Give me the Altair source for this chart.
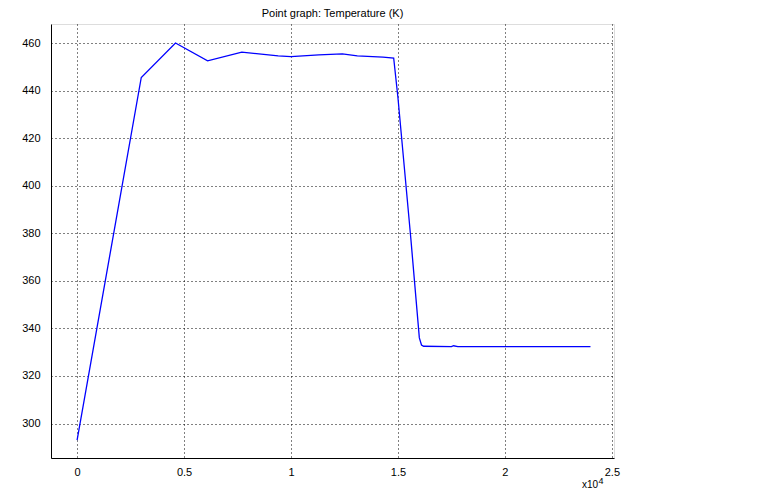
import altair as alt
import pandas as pd

# Time (s) and temperature (K)
time_s = [0, 3000, 4600, 6100, 7700, 9400, 10000, 11300, 12400, 13100,
          14300, 14800, 15000, 15600, 16000, 16100, 16200, 17500, 17600, 17800, 24000]
temp_k = [293, 445.5, 460, 452.5, 456.2, 454.6, 454.3, 455.0, 455.4, 454.6,
          454.1, 453.7, 437, 378, 336, 333, 332.5, 332.3, 332.7, 332.3, 332.3]

x_ticks = [0, 5000, 10000, 15000, 20000, 25000]
y_ticks = [300, 320, 340, 360, 380, 400, 420, 440, 460]

title_text = "Point graph: Temperature (K)"
exp_base = "x10"
exp_power = "4"

df = pd.DataFrame({"t": time_s, "T": temp_k})

FONT = "Liberation Sans"

grid_axis = dict(
    grid=True,
    gridColor="black",
    gridDash=[1, 3],
    gridWidth=1,
    gridOpacity=1,
    domain=True,
    domainColor="black",
    ticks=False,
    labelFont=FONT,
    labelFontSize=11,
    labelColor="black",
    title=None,
)

line = alt.Chart(df).mark_line(color="#0000ff", strokeWidth=1.3, clip=True).encode(
    x=alt.X("t:Q",
            scale=alt.Scale(domain=[-1220, 25100], nice=False, zero=False),
            axis=alt.Axis(values=x_ticks, labelExpr="'' + datum.value / 10000",
                          labelPadding=8, labelFlush=False, **grid_axis)),
    y=alt.Y("T:Q",
            scale=alt.Scale(domain=[285.5, 468], nice=False, zero=False),
            axis=alt.Axis(values=y_ticks, labelPadding=11, **grid_axis)),
)

exp1 = alt.Chart(pd.DataFrame({"s": [exp_base]})).mark_text(
    font=FONT, fontSize=10, color="black", align="center", baseline="middle"
).encode(text="s:N", x=alt.value(539), y=alt.value(460.5))

exp2 = alt.Chart(pd.DataFrame({"s": [exp_power]})).mark_text(
    font=FONT, fontSize=9, color="black", align="center", baseline="middle"
).encode(text="s:N", x=alt.value(550), y=alt.value(456.5))

chart = alt.layer(line, exp1, exp2).properties(
    width=563,
    height=434,
    title=alt.TitleParams(title_text, font=FONT, fontSize=11, fontWeight="normal",
                          color="black", anchor="middle", offset=5),
    autosize=alt.AutoSizeParams(type="none"),
    padding={"left": 43, "top": 16, "right": 10, "bottom": 31},
).configure_view(stroke="black", strokeWidth=1).configure(background="white")

chart.save("out.html", embed_options={"renderer": "svg", "actions": False})
